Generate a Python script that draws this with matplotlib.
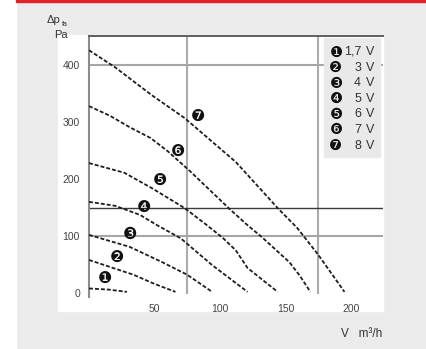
import matplotlib
matplotlib.use('Agg')
import matplotlib.pyplot as plt
from matplotlib.patches import Rectangle

plt.rcParams['font.family'] = ['Liberation Sans', 'DejaVu Sans']

W, H = 426, 349

# ---- data ----
voltages = ['1,7', '3', '4', '5', '6', '7', '8']
markers = ['❶', '❷', '❸', '❹', '❺', '❻', '❼']

c1_x = [0, 15, 29]
c1_y = [8, 6, 2]
c2_x = [0, 34, 50, 66]
c2_y = [58, 32, 16, 2]
c3_x = [0, 31, 56, 75, 94]
c3_y = [102, 81, 54, 32, 2]
c4_x = [0, 20, 39, 52, 70, 94, 121]
c4_y = [160, 153, 137, 119, 96, 49, 2]
c5_x = [0, 27, 48, 73, 90, 102, 112, 121, 144]
c5_y = [228, 211, 184, 149, 119, 97, 75, 44, 2]
c6_x = [0, 16, 31, 47, 60, 77, 108, 121, 132, 153, 161, 169]
c6_y = [328, 311, 291, 272, 249, 214, 146, 119, 98, 54, 30, 2]
c7_x = [0, 20, 48, 73, 112, 133, 144, 159, 175, 195]
c7_y = [426, 396, 347, 307, 230, 177, 149, 114, 67, 2]

curves_x = [c1_x, c2_x, c3_x, c4_x, c5_x, c6_x, c7_x]
curves_y = [c1_y, c2_y, c3_y, c4_y, c5_y, c6_y, c7_y]

label_x = [12, 21, 31, 42, 54, 68, 83]
label_y = [25, 63, 103, 151, 198, 249, 310]

x_ticks = [50, 100, 150, 200]
y_ticks = [0, 100, 200, 300, 400]
grid_x = [75, 175]
grid_y = [100, 400]
ref_y = [150]


def fx(p):
    return p / W


def fy(p):
    return 1 - p / H


fig = plt.figure(figsize=(W / 100, H / 100), dpi=100)
fig.patch.set_facecolor('#ebebeb')

fig.add_artist(Rectangle((0, 0), fx(16), 1, transform=fig.transFigure,
                         color='white', zorder=-10))
fig.add_artist(Rectangle((fx(16), fy(2)), 1, 2 / H, transform=fig.transFigure,
                         color='#e3202a', zorder=-10))
fig.add_artist(Rectangle((fx(58), fy(311)), (383 - 58) / W, (311 - 35) / H,
                         transform=fig.transFigure, color='white', zorder=-9))

ax = fig.add_axes([fx(89), fy(297), (383 - 89) / W, (297 - 36) / H])
ax.set_facecolor('none')
ax.set_xlim(0, 224.4)
ax.set_ylim(-7, 451)

for s in ['right', 'bottom']:
    ax.spines[s].set_visible(False)
ax.spines['left'].set_color('#8c8c8c')
ax.spines['left'].set_linewidth(1.5)
ax.spines['top'].set_color('#5e5e5e')
ax.spines['top'].set_linewidth(1.4)

for gx in grid_x:
    ax.vlines(gx, -1, 451, color='#ababab', lw=1.5, zorder=1)
for gy in grid_y:
    ax.axhline(gy, color='#a6a6a6', lw=1.5, zorder=1)
for ry in ref_y:
    ax.axhline(ry, color='#3c3c3c', lw=1.0, zorder=1)

for cx, cy in zip(curves_x, curves_y):
    ax.plot(cx, cy, color='#1e1e1e', lw=1.3, linestyle=(0, (2.2, 1.1)),
            dash_capstyle='butt', zorder=3)

for lx, ly, m in zip(label_x, label_y, markers):
    ax.text(lx, ly, m, ha='center', va='center', fontsize=11.5, color='#111111',
            family=['DejaVu Sans'], zorder=4)

ax.set_xticks(x_ticks)
ax.set_xticklabels([str(v) for v in x_ticks])
ax.set_yticks(y_ticks)
ax.set_yticklabels([str(v) for v in y_ticks])
ax.tick_params(axis='both', length=0, labelsize=7.5, colors='#444444')
ax.tick_params(axis='y', pad=6.5)
ax.tick_params(axis='x', pad=5)

# legend box
fig.add_artist(Rectangle((fx(324), fy(157)), (380 - 324) / W, (157 - 38) / H,
                         transform=fig.transFigure, color='#e9e9e9', zorder=2))
for i, (m, v) in enumerate(zip(markers, voltages)):
    row = 52 + i * 15.6
    fig.text(fx(336), fy(row), m, ha='center', va='center', fontsize=10.5,
             family=['DejaVu Sans'], color='#111111', zorder=3)
    fig.text(fx(361), fy(row), v, ha='right', va='center', fontsize=9,
             family=['Liberation Sans Narrow', 'Liberation Sans'],
             color='#333333', zorder=3)
    fig.text(fx(366), fy(row), 'V', ha='left', va='center', fontsize=9,
             family=['Liberation Sans Narrow', 'Liberation Sans'],
             color='#333333', zorder=3)

# axis titles
fig.text(fx(47), fy(23), 'Δp', ha='left', va='baseline', fontsize=8, color='#333333')
fig.text(fx(62), fy(26), 'fa', ha='left', va='baseline', fontsize=5, color='#333333')
fig.text(fx(54), fy(38), 'Pa', ha='left', va='baseline', fontsize=8, color='#333333')
fig.text(fx(341), fy(337), 'V   m³/h', ha='left', va='baseline', fontsize=8.5,
         color='#333333')

fig.savefig('out.png', dpi=100, facecolor=fig.get_facecolor())
